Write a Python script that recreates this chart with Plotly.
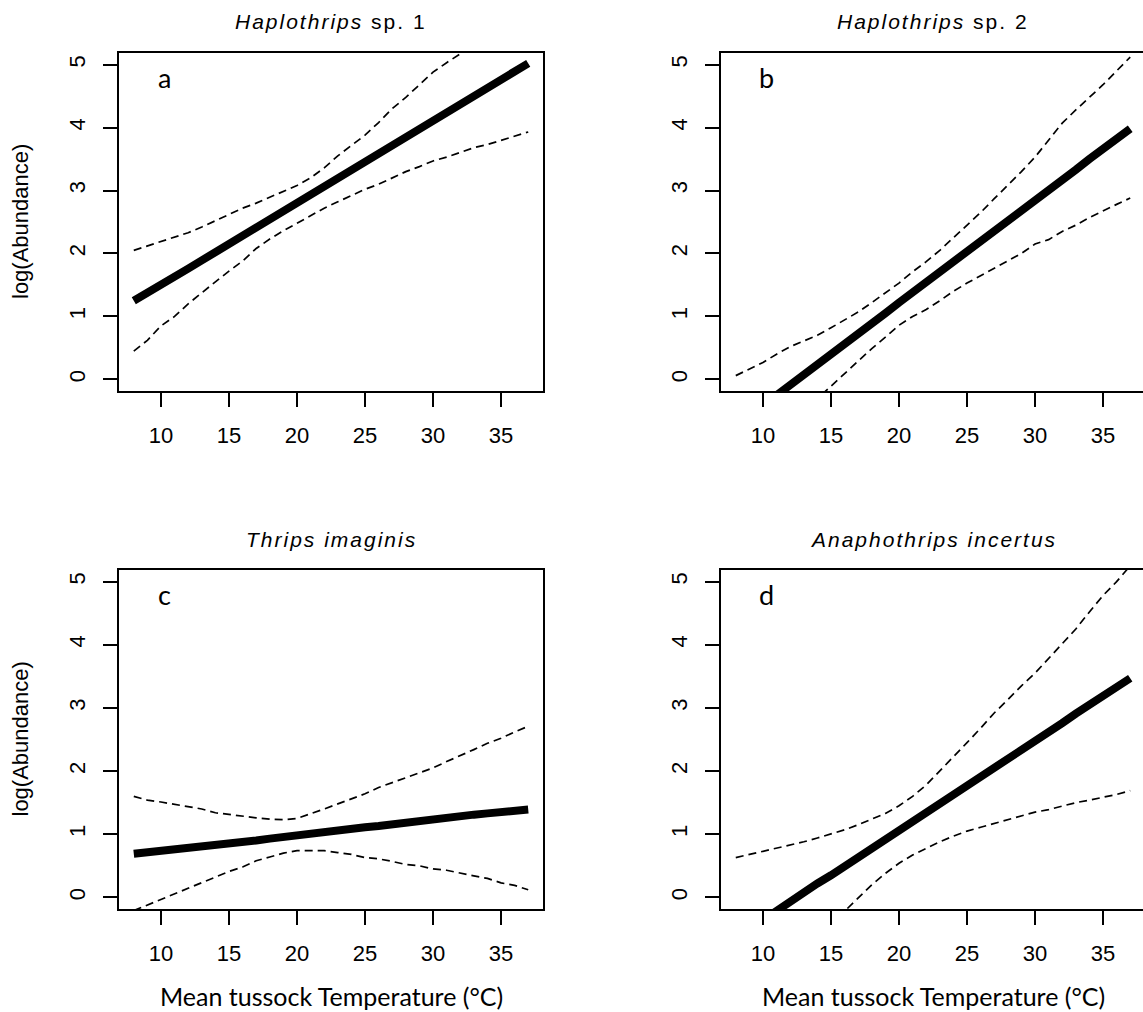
import plotly.graph_objects as go

W, H = 1143, 1012

temp = [8, 9, 10, 11, 12, 13, 14, 15, 16, 17, 18, 19, 20, 21, 22,
        23, 24, 25, 26, 27, 28, 29, 30, 31, 32, 33, 34, 35, 36, 37]

# Panel a: Haplothrips sp. 1
fit_a = [1.25, 1.37, 1.50, 1.63, 1.76, 1.89, 2.02, 2.15, 2.28, 2.42, 2.55, 2.68, 2.81, 2.94, 3.07,
         3.20, 3.33, 3.46, 3.59, 3.72, 3.85, 3.98, 4.11, 4.24, 4.37, 4.50, 4.63, 4.76, 4.89, 5.02]
upr_a = [2.05, 2.12, 2.18, 2.25, 2.33, 2.42, 2.52, 2.62, 2.72, 2.80, 2.89, 2.98, 3.08, 3.20, 3.36,
         3.55, 3.72, 3.88, 4.08, 4.30, 4.48, 4.68, 4.88, 5.03, 5.17, 5.35, 5.50, 5.65, 5.80, 5.95]
lwr_a = [0.45, 0.62, 0.85, 1.00, 1.20, 1.38, 1.55, 1.72, 1.88, 2.08, 2.23, 2.36, 2.48, 2.60, 2.72,
         2.82, 2.92, 3.02, 3.10, 3.20, 3.30, 3.38, 3.47, 3.53, 3.60, 3.68, 3.73, 3.80, 3.87, 3.93]

# Panel b: Haplothrips sp. 2
fit_b = [-0.74, -0.58, -0.41, -0.25, -0.09, 0.07, 0.24, 0.40, 0.56, 0.72, 0.89, 1.05, 1.22, 1.38, 1.54,
         1.70, 1.87, 2.03, 2.19, 2.36, 2.52, 2.68, 2.85, 3.01, 3.17, 3.33, 3.50, 3.66, 3.82, 3.98]
upr_b = [0.06, 0.17, 0.27, 0.40, 0.52, 0.61, 0.70, 0.82, 0.94, 1.07, 1.22, 1.37, 1.53, 1.71, 1.87,
         2.05, 2.25, 2.45, 2.65, 2.87, 3.08, 3.30, 3.53, 3.80, 4.07, 4.28, 4.48, 4.68, 4.90, 5.12]
lwr_b = [-1.50, -1.30, -1.10, -0.90, -0.70, -0.50, -0.30, -0.10, 0.10, 0.30, 0.49, 0.67, 0.86, 1.00, 1.11,
         1.25, 1.40, 1.53, 1.65, 1.77, 1.88, 2.00, 2.15, 2.22, 2.35, 2.45, 2.57, 2.68, 2.78, 2.88]

# Panel c: Thrips imaginis
fit_c = [0.69, 0.71, 0.73, 0.76, 0.78, 0.80, 0.83, 0.85, 0.88, 0.90, 0.93, 0.96, 0.98, 1.01, 1.03,
         1.06, 1.08, 1.11, 1.13, 1.16, 1.18, 1.21, 1.23, 1.26, 1.28, 1.31, 1.33, 1.35, 1.37, 1.39]
upr_c = [1.60, 1.54, 1.51, 1.47, 1.43, 1.40, 1.34, 1.31, 1.29, 1.26, 1.24, 1.23, 1.25, 1.32, 1.40,
         1.48, 1.56, 1.64, 1.74, 1.82, 1.89, 1.97, 2.05, 2.15, 2.24, 2.34, 2.44, 2.52, 2.62, 2.71]
lwr_c = [-0.21, -0.12, -0.03, 0.05, 0.14, 0.24, 0.33, 0.41, 0.48, 0.58, 0.64, 0.70, 0.74, 0.74, 0.74,
         0.71, 0.68, 0.63, 0.61, 0.57, 0.52, 0.50, 0.45, 0.43, 0.38, 0.34, 0.30, 0.23, 0.19, 0.12]

# Panel d: Anaphothrips incertus
fit_d = [-0.65, -0.50, -0.36, -0.22, -0.08, 0.07, 0.22, 0.35, 0.49, 0.63, 0.78, 0.92, 1.06, 1.20, 1.34,
         1.49, 1.63, 1.77, 1.91, 2.05, 2.20, 2.34, 2.48, 2.62, 2.76, 2.91, 3.05, 3.19, 3.33, 3.47]
upr_d = [0.63, 0.68, 0.72, 0.77, 0.83, 0.88, 0.94, 1.00, 1.07, 1.15, 1.24, 1.33, 1.45, 1.60, 1.78,
         2.00, 2.22, 2.45, 2.68, 2.92, 3.13, 3.35, 3.55, 3.78, 4.02, 4.25, 4.52, 4.78, 5.00, 5.25]
lwr_d = [-1.90, -1.70, -1.50, -1.30, -1.10, -0.85, -0.65, -0.43, -0.22, -0.01, 0.20, 0.38, 0.54, 0.67, 0.78,
         0.88, 0.97, 1.05, 1.11, 1.17, 1.23, 1.29, 1.35, 1.39, 1.45, 1.50, 1.54, 1.58, 1.63, 1.69]

titles = ["<i>Haplothrips</i> sp. 1", "<i>Haplothrips</i> sp. 2",
          "<i>Thrips imaginis</i>", "<i>Anaphothrips incertus</i>"]
letters = ["a", "b", "c", "d"]
x_ticks = [10, 15, 20, 25, 30, 35]
y_ticks = [0, 1, 2, 3, 4, 5]
y_title = "log(Abundance)"
x_title = "Mean tussock Temperature (°C)"

panels = [(fit_a, upr_a, lwr_a), (fit_b, upr_b, lwr_b), (fit_c, upr_c, lwr_c), (fit_d, upr_d, lwr_d)]

# geometry in pixels
PXU = 426 / 31.32
boxes = [  # left, right_visible, top, bottom
    (118, 544, 52, 392),
    (720, 1143, 52, 392),
    (118, 544, 569, 910),
    (720, 1143, 569, 910),
]
full_w = 426

fig = go.Figure()
TICKFONT = dict(family="Liberation Sans, Arial, sans-serif", size=22, color="black")

for i, ((fit, upr, lwr), (l, r, t, b)) in enumerate(zip(panels, boxes)):
    n = i + 1
    xa = "x" if n == 1 else f"x{n}"
    ya = "y" if n == 1 else f"y{n}"
    for ser in (upr, lwr):
        fig.add_trace(go.Scatter(x=temp, y=ser, mode="lines", xaxis=xa, yaxis=ya,
                                 line=dict(color="black", width=1.7, dash="8px,5px"),
                                 showlegend=False, hoverinfo="skip"))
    fig.add_trace(go.Scatter(x=temp, y=fit, mode="lines", xaxis=xa, yaxis=ya,
                             line=dict(color="black", width=8), showlegend=False,
                             hoverinfo="skip"))
    xr1 = 6.84 + (r - l) / PXU
    axx = dict(domain=[l / W, r / W], range=[6.84, xr1], anchor=ya,
               tickmode="array", tickvals=x_ticks, ticks="outside", ticklen=14,
               tickwidth=2, tickcolor="black", showgrid=False, zeroline=False,
               showline=False, tickfont=TICKFONT, ticklabelstandoff=10)
    axy = dict(domain=[1 - b / H, 1 - t / H], range=[-0.2, 5.2], anchor=xa,
               tickmode="array", tickvals=y_ticks, ticks="outside", ticklen=14,
               tickwidth=2, tickcolor="black", showgrid=False, zeroline=False,
               showline=False, tickfont=TICKFONT, tickangle=-90, ticklabelstandoff=9)
    fig.layout[("xaxis" if n == 1 else f"xaxis{n}")] = axx
    fig.layout[("yaxis" if n == 1 else f"yaxis{n}")] = axy
    # frame
    fig.add_shape(type="rect", xref=f"{xa} domain", yref=f"{ya} domain",
                  x0=0, x1=full_w / (r - l), y0=0, y1=1,
                  line=dict(color="black", width=2), layer="above")
    cx = (l + full_w / 2)
    # title
    fig.add_annotation(x=cx / W, y=1 - (t - 30) / H, xref="paper", yref="paper",
                       text=f'<span style="letter-spacing:2px">{titles[i]}</span>',
                       showarrow=False, xanchor="center", yanchor="middle",
                       font=dict(family="Liberation Sans, Arial, sans-serif", size=21, color="black"))
    # letter
    fig.add_annotation(x=(l + 46) / W, y=1 - (t + 25) / H, xref="paper", yref="paper",
                       text=letters[i], showarrow=False, xanchor="center", yanchor="middle",
                       font=dict(family="Lato, sans-serif", size=27, color="black"))
    if n in (1, 3):
        fig.add_annotation(x=20 / W, y=1 - ((t + b) / 2) / H, xref="paper", yref="paper",
                           text=y_title, textangle=-90, showarrow=False,
                           xanchor="center", yanchor="middle",
                           font=dict(family="Liberation Sans, Arial, sans-serif", size=22, color="black"))
    if n in (3, 4):
        fig.add_annotation(x=cx / W, y=1 - 1012 / H, xref="paper", yref="paper",
                           text=x_title, showarrow=False, xanchor="center", yanchor="bottom",
                           borderpad=0,
                           font=dict(family="Lato, sans-serif", size=25, color="black"))

fig.update_layout(width=W, height=H, margin=dict(l=0, r=0, t=0, b=0),
                  paper_bgcolor="white", plot_bgcolor="white")

fig.write_html("out.html", config={"displayModeBar": False},
               post_script="document.body.style.margin='0';document.body.style.overflow='hidden';")
